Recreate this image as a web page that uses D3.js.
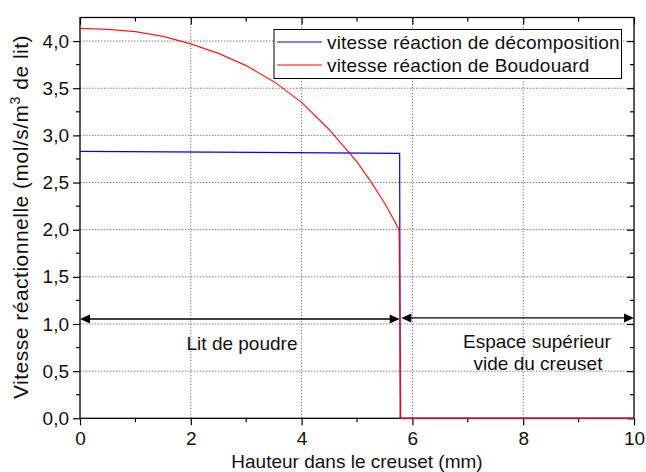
<!DOCTYPE html>
<html>
<head>
<meta charset="utf-8">
<script src="https://cdn.jsdelivr.net/npm/d3@7/dist/d3.min.js"></script>
<style>
  html, body { margin: 0; padding: 0; background: #fff; }
  svg { display: block; font-family: "Liberation Sans", Arial, sans-serif; }
</style>
</head>
<body>
<svg id="chart" width="646" height="472"></svg>
<script>
// Reaction rates along the crucible height
const decompX = [0, 5.77, 5.78, 10];
const decompY = [2.83, 2.81, 0, 0];

const boudX = [0, 0.5, 1, 1.5, 2, 2.5, 3, 3.5, 4, 4.5, 5, 5.25, 5.5, 5.76, 5.79, 10];
const boudY = [4.135, 4.125, 4.10, 4.05, 3.97, 3.87, 3.74, 3.57, 3.35, 3.06, 2.72, 2.51, 2.28, 2.00, 0, 0];

const seriesNames = ["vitesse réaction de décomposition", "vitesse réaction de Boudouard"];

const xTicks = [0, 2, 4, 6, 8, 10];
const xMinor = [1, 3, 5, 7, 9];
const yTicks = [0, 0.5, 1, 1.5, 2, 2.5, 3, 3.5, 4];
const yMinor = [0.25, 0.75, 1.25, 1.75, 2.25, 2.75, 3.25, 3.75];

// Zone extents (mm) and the rate level where the double arrows sit
const zoneBed = [0, 5.77, 1.053];
const zoneEmpty = [5.80, 10, 1.064];

const svg = d3.select("#chart");
const W = 646, H = 472;
const m = { left: 80, top: 17.5, right: 12, bottom: 53.7 };
const x = d3.scaleLinear().domain([0, 10]).range([m.left, W - m.right]);
const y = d3.scaleLinear().domain([0, 4.25]).range([H - m.bottom, m.top]);
const x0 = x.range()[0], x1 = x.range()[1];
const y0 = y.range()[0], y1 = y.range()[1];

const fmt = v => d3.format(".1f")(v).replace(".", ",");
const FS = 19;

// dotted grid
const grid = svg.append("g").attr("stroke", "#808080").attr("stroke-width", 1)
  .attr("stroke-dasharray", "1.5,1.5");
xTicks.filter(t => t > 0 && t < 10).forEach(t => {
  grid.append("line").attr("x1", x(t)).attr("x2", x(t)).attr("y1", y0).attr("y2", y1);
});
yTicks.filter(t => t > 0).forEach(t => {
  grid.append("line").attr("x1", x0).attr("x2", x1).attr("y1", y(t)).attr("y2", y(t));
});

// axes: bottom/left ticks outward, top/right ticks inward
const axBottom = d3.axisBottom(x).tickValues(xTicks).tickSize(7).tickPadding(6).tickFormat(d3.format("d"));
const axLeft = d3.axisLeft(y).tickValues(yTicks).tickSize(7).tickPadding(4).tickFormat(fmt);
const axTop = d3.axisBottom(x).tickValues(xTicks).tickSize(7).tickFormat("");
const axRight = d3.axisLeft(y).tickValues(yTicks).tickSize(7).tickFormat("");

function styleAxis(g) {
  g.select(".domain").remove();
  g.selectAll(".tick line").attr("stroke", "#000").attr("stroke-width", 1.2);
  g.selectAll(".tick text").attr("fill", "#111").style("font-size", FS + "px")
    .style("font-family", "'Liberation Sans', Arial, sans-serif");
}
svg.append("g").attr("transform", `translate(0,${y0})`).call(axBottom).call(styleAxis);
svg.append("g").attr("transform", `translate(${x0},0)`).call(axLeft).call(styleAxis);
svg.append("g").attr("transform", `translate(0,${y1})`).call(axTop).call(styleAxis);
svg.append("g").attr("transform", `translate(${x1},0)`).call(axRight).call(styleAxis);

// minor ticks
const minor = svg.append("g").attr("stroke", "#000").attr("stroke-width", 1.2);
xMinor.forEach(t => {
  minor.append("line").attr("x1", x(t)).attr("x2", x(t)).attr("y1", y0).attr("y2", y0 + 4);
  minor.append("line").attr("x1", x(t)).attr("x2", x(t)).attr("y1", y1).attr("y2", y1 + 4);
});
yMinor.forEach(t => {
  minor.append("line").attr("x1", x0 - 4).attr("x2", x0).attr("y1", y(t)).attr("y2", y(t));
  minor.append("line").attr("x1", x1 - 4).attr("x2", x1).attr("y1", y(t)).attr("y2", y(t));
});

// frame
svg.append("rect").attr("x", x0).attr("y", y1).attr("width", x1 - x0).attr("height", y0 - y1)
  .attr("fill", "none").attr("stroke", "#000").attr("stroke-width", 1.3);

// series, drawn over the frame so the zero segment shows on the axis
const pts = (xs, ys) => xs.map((v, i) => [v, ys[i]]);
const line = d3.line().x(d => x(d[0])).y(d => y(d[1]));
svg.append("path").attr("d", line(pts(decompX, decompY)))
  .attr("fill", "none").attr("stroke", "#0000ee").attr("stroke-width", 1.2);
svg.append("path").attr("d", line(pts(boudX, boudY)))
  .attr("fill", "none").attr("stroke", "#ff0000").attr("stroke-width", 1.2)
  .attr("stroke-opacity", 0.9);

// double arrows for the two zones
function doubleArrow(a, b, lvl) {
  const g = svg.append("g");
  const xa = x(a), xb = x(b), yy = y(lvl);
  const L = 10, hw = 4.5;
  g.append("line").attr("x1", xa + 2).attr("x2", xb - 2).attr("y1", yy).attr("y2", yy)
    .attr("stroke", "#000").attr("stroke-width", 1.3);
  g.append("path").attr("d", `M${xa},${yy}L${xa + L},${yy - hw}L${xa + L},${yy + hw}Z`).attr("fill", "#000");
  g.append("path").attr("d", `M${xb},${yy}L${xb - L},${yy - hw}L${xb - L},${yy + hw}Z`).attr("fill", "#000");
}
doubleArrow(zoneBed[0], zoneBed[1], zoneBed[2]);
doubleArrow(zoneEmpty[0], zoneEmpty[1], zoneEmpty[2]);

const txt = (tx, ty, s, anchor) => svg.append("text").attr("x", tx).attr("y", ty)
  .attr("text-anchor", anchor || "middle").attr("fill", "#111").style("font-size", FS + "px").text(s);
txt(242, 350, "Lit de poudre");
txt(537, 348, "Espace supérieur");
txt(538, 370, "vide du creuset");

// legend
const lg = svg.append("g");
lg.append("rect").attr("x", 274).attr("y", 29.5).attr("width", 347.5).attr("height", 49)
  .attr("fill", "#fff").attr("stroke", "#000").attr("stroke-width", 1);
[["#0000ee", 42], ["#ff0000", 65]].forEach(([c, ly], i) => {
  lg.append("line").attr("x1", 277).attr("x2", 322).attr("y1", ly).attr("y2", ly)
    .attr("stroke", c).attr("stroke-width", 1.2);
  lg.append("text").attr("x", 327).attr("y", ly + 6.5).attr("fill", "#111")
    .style("font-size", FS + "px").style("letter-spacing", "0.2px").text(seriesNames[i]);
});

// axis titles
svg.append("text").attr("x", (x0 + x1) / 2).attr("y", 468).attr("text-anchor", "middle")
  .attr("fill", "#111").style("font-size", FS + "px").text("Hauteur dans le creuset (mm)");

const yt = svg.append("text").attr("transform", `translate(28,217) rotate(-90)`)
  .attr("text-anchor", "middle").attr("fill", "#111").style("font-size", "21px")
  .style("letter-spacing", "0.5px");
yt.append("tspan").text("Vitesse réactionnelle (mol/s/m");
yt.append("tspan").attr("dy", -8).style("font-size", "14px").text("3");
yt.append("tspan").attr("dy", 8).text(" de lit)");
</script>
</body>
</html>
